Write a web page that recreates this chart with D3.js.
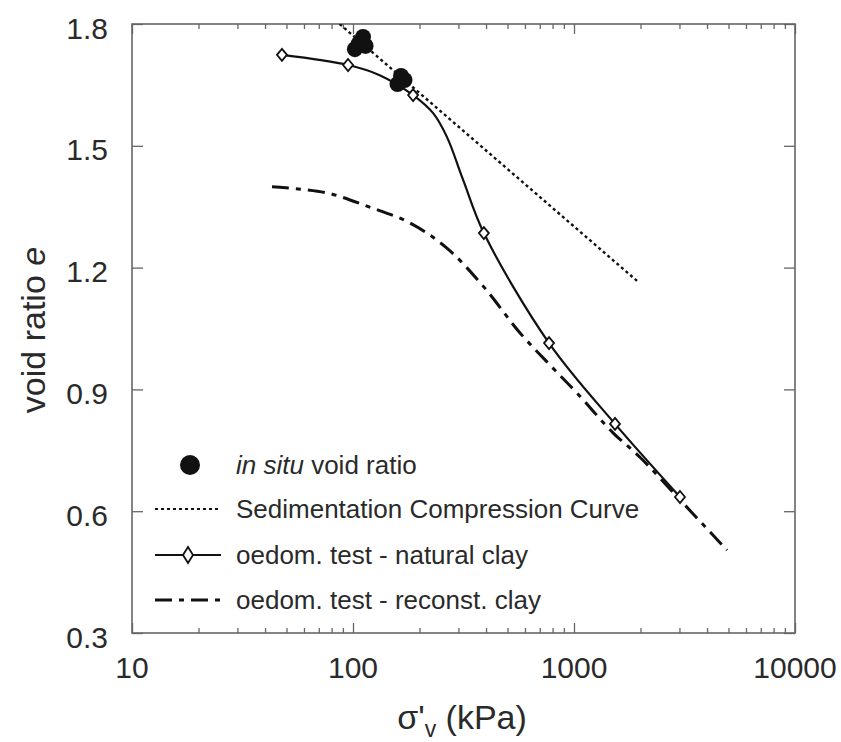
<!DOCTYPE html>
<html>
<head>
<meta charset="utf-8">
<script src="https://cdn.jsdelivr.net/npm/d3@7"></script>
<style>
  html, body { margin: 0; padding: 0; background: #fff; }
  svg { display: block; }
  text { font-family: "Liberation Sans", Arial, Helvetica, sans-serif; }
</style>
</head>
<body>
<svg id="chart" width="841" height="742"></svg>
<script>
// ---------------- data ----------------
const xTickValues = [10, 100, 1000, 10000];
const xTickLabels = ["10", "100", "1000", "10000"];
const yTickValues = [0.3, 0.6, 0.9, 1.2, 1.5, 1.8];
const yTickLabels = ["0.3", "0.6", "0.9", "1.2", "1.5", "1.8"];

// in situ void ratio
const inSituSigma = [111, 106, 114, 102, 165, 159, 171];
const inSituE     = [1.768, 1.751, 1.746, 1.738, 1.672, 1.652, 1.662];

// Sedimentation Compression Curve
const sedSigma = [87, 1950];
const sedE     = [1.80, 1.165];

// oedometer test - natural clay (curve trace)
const natCurveSigma = [47.7, 95, 132, 187, 230, 266, 315, 391, 771, 1533, 3017];
const natCurveE     = [1.724, 1.699, 1.674, 1.625, 1.581, 1.522, 1.416, 1.285, 1.014, 0.815, 0.635];
// natural clay test points (diamond markers)
const natTestSigma = [47.7, 95, 187, 391, 771, 1533, 3017];
const natTestE     = [1.724, 1.699, 1.625, 1.285, 1.014, 0.815, 0.635];

// oedometer test - reconstituted clay
const recSigma = [43, 76, 119, 181, 266, 387, 570, 779, 1032, 1502, 1989, 3017, 4924];
const recE     = [1.399, 1.384, 1.349, 1.310, 1.248, 1.155, 1.039, 0.960, 0.891, 0.793, 0.733, 0.628, 0.504];

const legendLabels = ["in situ void ratio", "Sedimentation Compression Curve",
                      "oedom. test - natural clay", "oedom. test - reconst. clay"];

// ---------------- layout ----------------
const svg = d3.select("#chart");
const L = 132, R = 795, T = 24, B = 633;
const x = d3.scaleLog().domain([10, 10000]).range([L, R]);
const y = d3.scaleLinear().domain([0.3, 1.8]).range([B, T]);
const ink = "#111";
const axisCol = "#666";
const textCol = "#2a2a2a";

svg.append("defs").append("clipPath").attr("id", "plotclip")
  .append("rect").attr("x", L).attr("y", T).attr("width", R - L).attr("height", B - T);

// ---------------- axes (ticks inward) ----------------
const minorX = [];
[10, 100, 1000].forEach(d => { for (let k = 2; k <= 9; k++) minorX.push(d * k); });

const gAx = svg.append("g");
gAx.append("g").attr("transform", `translate(0,${B})`)
  .call(d3.axisBottom(x).tickValues(xTickValues).tickSizeInner(-10).tickSizeOuter(0).tickFormat(""))
  .call(g => g.select(".domain").remove());
gAx.append("g").attr("transform", `translate(0,${B})`)
  .call(d3.axisBottom(x).tickValues(minorX).tickSizeInner(-5).tickSizeOuter(0).tickFormat(""))
  .call(g => g.select(".domain").remove());
gAx.append("g").attr("transform", `translate(0,${T})`)
  .call(d3.axisTop(x).tickValues(xTickValues).tickSizeInner(-10).tickSizeOuter(0).tickFormat(""))
  .call(g => g.select(".domain").remove());
gAx.append("g").attr("transform", `translate(0,${T})`)
  .call(d3.axisTop(x).tickValues(minorX).tickSizeInner(-5).tickSizeOuter(0).tickFormat(""))
  .call(g => g.select(".domain").remove());
gAx.append("g").attr("transform", `translate(${L},0)`)
  .call(d3.axisLeft(y).tickValues(yTickValues).tickSizeInner(-11).tickSizeOuter(0).tickFormat(""))
  .call(g => g.select(".domain").remove());
gAx.append("g").attr("transform", `translate(${R},0)`)
  .call(d3.axisRight(y).tickValues(yTickValues).tickSizeInner(-11).tickSizeOuter(0).tickFormat(""))
  .call(g => g.select(".domain").remove());
gAx.selectAll(".tick line").attr("stroke", axisCol).attr("stroke-width", 1.3);
gAx.selectAll(".tick text").remove();

// frame
svg.append("rect").attr("x", L).attr("y", T).attr("width", R - L).attr("height", B - T)
  .attr("fill", "none").attr("stroke", axisCol).attr("stroke-width", 1.6);

// tick labels
svg.append("g").selectAll("text").data(xTickValues).join("text")
  .attr("x", d => x(d)).attr("y", 667).attr("dy", "0.35em")
  .attr("text-anchor", "middle").attr("font-size", 30).attr("fill", textCol)
  .text((d, i) => xTickLabels[i]);
svg.append("g").selectAll("text").data(yTickValues).join("text")
  .attr("x", 108).attr("y", d => y(d) + 4).attr("dy", "0.35em")
  .attr("text-anchor", "end").attr("font-size", 30).attr("fill", textCol)
  .text((d, i) => yTickLabels[i]);

// axis titles
const xt = svg.append("text").attr("x", 462).attr("y", 729)
  .attr("text-anchor", "middle").attr("font-size", 34).attr("fill", textCol);
xt.append("tspan").text("σ'");
xt.append("tspan").attr("font-size", 23).attr("dy", 8).text("v");
xt.append("tspan").attr("dy", -8).text(" (kPa)");

const yt = svg.append("text").attr("transform", "translate(45,330) rotate(-90)")
  .attr("text-anchor", "middle").attr("font-size", 34).attr("fill", textCol);
yt.append("tspan").text("void ratio ");
yt.append("tspan").attr("font-style", "italic").text("e");

// ---------------- series ----------------
const plot = svg.append("g").attr("clip-path", "url(#plotclip)");

// reconstituted clay: dash-dot
const recData = recSigma.map((s, i) => [s, recE[i]]);
plot.append("path").datum(recData)
  .attr("d", d3.line().x(d => x(d[0])).y(d => y(d[1])).curve(d3.curveCatmullRom))
  .attr("fill", "none").attr("stroke", ink).attr("stroke-width", 3)
  .attr("stroke-dasharray", "17,7,5,7");

// sedimentation compression curve: dotted
const sedData = sedSigma.map((s, i) => [s, sedE[i]]);
plot.append("path").datum(sedData)
  .attr("d", d3.line().x(d => x(d[0])).y(d => y(d[1])))
  .attr("fill", "none").attr("stroke", ink).attr("stroke-width", 2.4)
  .attr("stroke-dasharray", "3,3");

// natural clay: solid with diamonds
const natData = natCurveSigma.map((s, i) => [s, natCurveE[i]]);
plot.append("path").datum(natData)
  .attr("d", d3.line().x(d => x(d[0])).y(d => y(d[1])).curve(d3.curveCatmullRom))
  .attr("fill", "none").attr("stroke", ink).attr("stroke-width", 2.2);

const diamond = "M0,-6L5,0L0,6L-5,0Z";
plot.append("g").selectAll("path").data(natTestSigma.map((s, i) => [s, natTestE[i]])).join("path")
  .attr("transform", d => `translate(${x(d[0])},${y(d[1])})`)
  .attr("d", diamond).attr("fill", "#fff").attr("stroke", ink).attr("stroke-width", 1.8);

// in situ void ratio: filled circles
svg.append("g").selectAll("circle").data(inSituSigma.map((s, i) => [s, inSituE[i]])).join("circle")
  .attr("cx", d => x(d[0])).attr("cy", d => y(d[1])).attr("r", 8).attr("fill", ink);

// ---------------- legend ----------------
const lg = svg.append("g");
const rowsY = [465, 509, 555, 600];
const lx0 = 155, lx1 = 221, ltx = 236;

lg.append("circle").attr("cx", 190).attr("cy", rowsY[0]).attr("r", 10).attr("fill", ink);
lg.append("line").attr("x1", lx0).attr("x2", lx1).attr("y1", rowsY[1]).attr("y2", rowsY[1])
  .attr("stroke", ink).attr("stroke-width", 2.2).attr("stroke-dasharray", "3,3");
lg.append("line").attr("x1", lx0).attr("x2", lx1).attr("y1", rowsY[2]).attr("y2", rowsY[2])
  .attr("stroke", ink).attr("stroke-width", 2.2);
lg.append("path").attr("transform", `translate(${(lx0 + lx1) / 2},${rowsY[2]})`)
  .attr("d", "M0,-8L5,0L0,8L-5,0Z").attr("fill", "#fff").attr("stroke", ink).attr("stroke-width", 1.8);
lg.append("line").attr("x1", lx0).attr("x2", lx1).attr("y1", rowsY[3]).attr("y2", rowsY[3])
  .attr("stroke", ink).attr("stroke-width", 3).attr("stroke-dasharray", "17,7,5,7");

const t0 = lg.append("text").attr("x", ltx).attr("y", rowsY[0]).attr("dy", "0.35em")
  .attr("font-size", 26).attr("fill", textCol);
t0.append("tspan").attr("font-style", "italic").text("in situ");
t0.append("tspan").text(" void ratio");
[1, 2, 3].forEach(i => {
  lg.append("text").attr("x", ltx).attr("y", rowsY[i]).attr("dy", "0.35em")
    .attr("font-size", 26).attr("fill", textCol).text(legendLabels[i]);
});
</script>
</body>
</html>
